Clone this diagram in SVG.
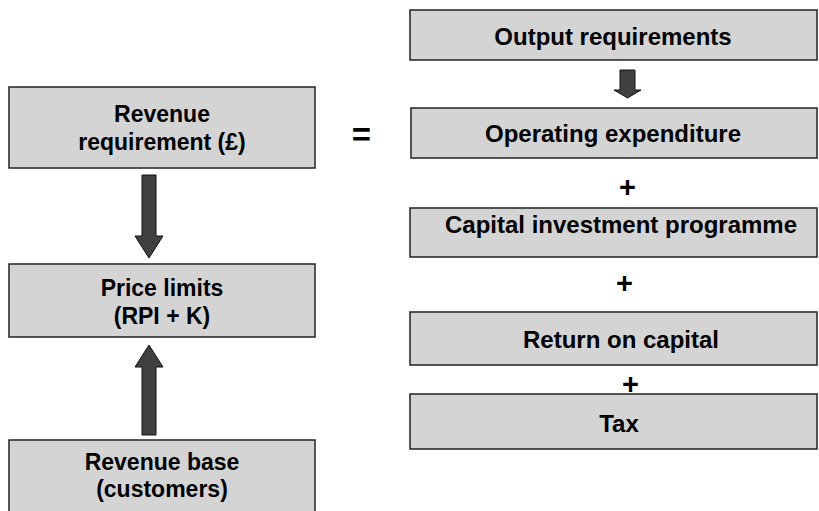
<svg xmlns="http://www.w3.org/2000/svg" width="819" height="511" viewBox="0 0 819 511">
<style>
.box{fill:#d4d4d4;stroke:#222;stroke-width:1.5}
.t{font-family:"Liberation Sans",Arial,sans-serif;font-weight:bold;fill:#000;text-anchor:middle}
.l{font-size:23px}
.r{font-size:24px}
.p{font-size:29px}
.arr{fill:#404040;stroke:#111;stroke-width:1}
</style>
<rect width="819" height="511" fill="#fff"/>
<g id="revenue-requirement">
<rect class="box" x="9" y="87" width="306" height="81"/>
<text class="t l" x="162" y="122">Revenue</text>
<text class="t l" x="162" y="150">requirement (£)</text>
</g>
<g id="price-limits">
<rect class="box" x="9" y="264" width="306" height="73"/>
<text class="t l" x="162" y="296">Price limits</text>
<text class="t l" x="162" y="324">(RPI + K)</text>
</g>
<g id="revenue-base">
<rect class="box" x="9" y="440" width="306" height="80"/>
<text class="t l" x="162" y="470">Revenue base</text>
<text class="t l" x="162" y="497">(customers)</text>
</g>
<g id="equals">
<text class="t" x="361.5" y="146" font-size="33">=</text>
</g>
<g id="output-requirements">
<rect class="box" x="410" y="10" width="407" height="50"/>
<text class="t r" x="613" y="45">Output requirements</text>
</g>
<g id="operating-expenditure">
<rect class="box" x="411" y="108" width="406" height="50"/>
<text class="t r" x="613" y="141.5">Operating expenditure</text>
</g>
<g id="capital-investment">
<rect class="box" x="410" y="208" width="407" height="49"/>
<text class="t r" x="621" y="233">Capital investment programme</text>
</g>
<g id="return-on-capital">
<rect class="box" x="410" y="312" width="407" height="53"/>
<text class="t r" x="621" y="348">Return on capital</text>
</g>
<g id="tax">
<rect class="box" x="410" y="394" width="407" height="55"/>
<text class="t r" x="619" y="431.5">Tax</text>
</g>
<g id="plus-signs">
<text class="t p" x="627.5" y="196.5">+</text>
<text class="t p" x="624.5" y="292.5">+</text>
<text class="t p" x="630.5" y="393.5">+</text>
</g>
<g id="connectors">
<polygon class="arr" points="142,175 156,175 156,236 163,236 149,258 135,236 142,236"/>
<polygon class="arr" points="149,345 163,367 156,367 156,435 142,435 142,367 135,367"/>
<polygon class="arr" points="620,70 635,70 635,90 641,90 627.5,98 614,90 620,90"/>
</g>
</svg>
